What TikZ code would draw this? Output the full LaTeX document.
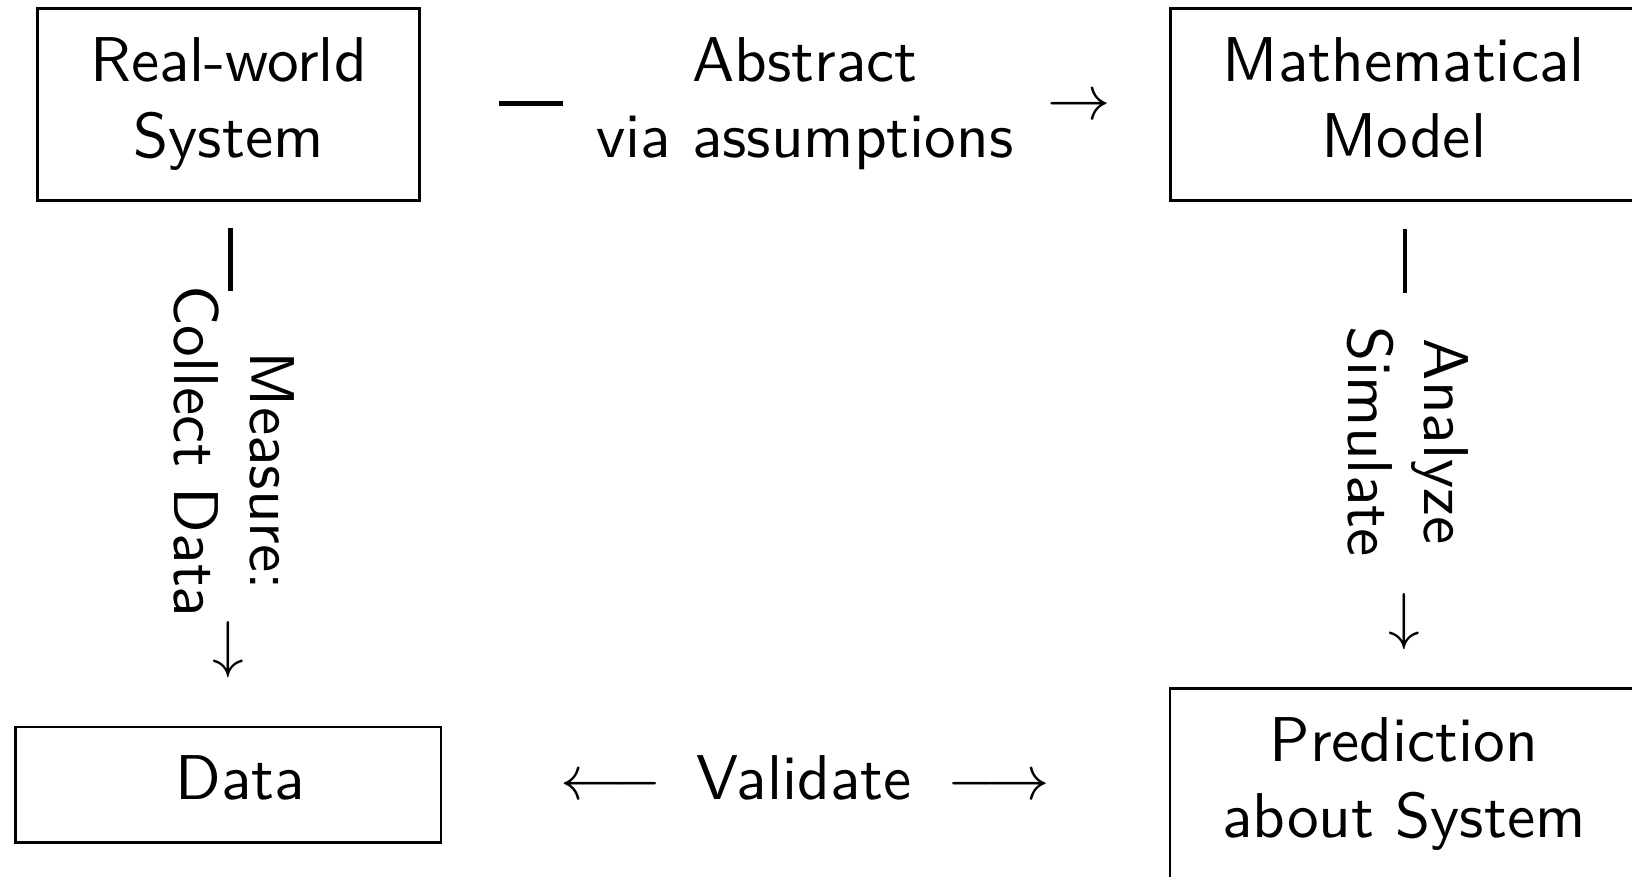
\documentclass[tikz,border=0pt]{standalone}
\usepackage{amsmath}

\begin{document}
\begin{tikzpicture}[font=\sffamily,
		box/.style={draw, align=center, inner xsep=8.3pt, inner ysep=3.15pt},
		lbl/.style={align=center},
		vlbl/.style={align=center, rotate=-90},
		bar/.style={inner sep=0pt}]
	\useasboundingbox (0,-4.870) rectangle (9.063,0);
	\node[box] (world) at (1.269,-0.581) {\strut Real-world\\System\strut};
	\node[box] (model) at (7.796,-0.581) {\strut Mathematical\\Model\strut};
	\node[box, minimum width=67.2pt] (data) at (1.268,-4.358) {\strut\hspace*{3.8pt}Data};
	\node[box] (pred) at (7.796,-4.356) {\strut Prediction\\about System\strut};
	% world -> model
	\node[bar] (absbar) at (2.949,-0.574) {\rule{10pt}{0.74pt}};
	\node[lbl] (abs) at (4.470,-0.578) {Abstract\\via assumptions};
	\node (absarr) at (5.994,-0.601) {$\rightarrow$};
	% world -> data
	\node[bar, rotate=-90] (measbar) at (1.279,-1.441) {\rule{10pt}{0.74pt}};
	\node[vlbl] (meas) at (1.299,-2.507) {\hspace*{6.2pt}Measure:\\Collect Data};
	\node (measarr) at (1.270,-3.607) {$\downarrow$};
	% model -> pred
	\node[bar, rotate=-90] (simbar) at (7.802,-1.449) {\rule{10pt}{0.74pt}};
	\node[vlbl] (sim) at (7.819,-2.452) {Analyze\\Simulate};
	\node (simarr) at (7.796,-3.451) {$\downarrow$};
	% data <-> pred
	\node (valleft) at (3.393,-4.374) {$\longleftarrow$};
	\node[lbl] (val) at (4.465,-4.320) {Validate};
	\node (valright) at (5.546,-4.374) {$\longrightarrow$};
\end{tikzpicture}
\end{document}
